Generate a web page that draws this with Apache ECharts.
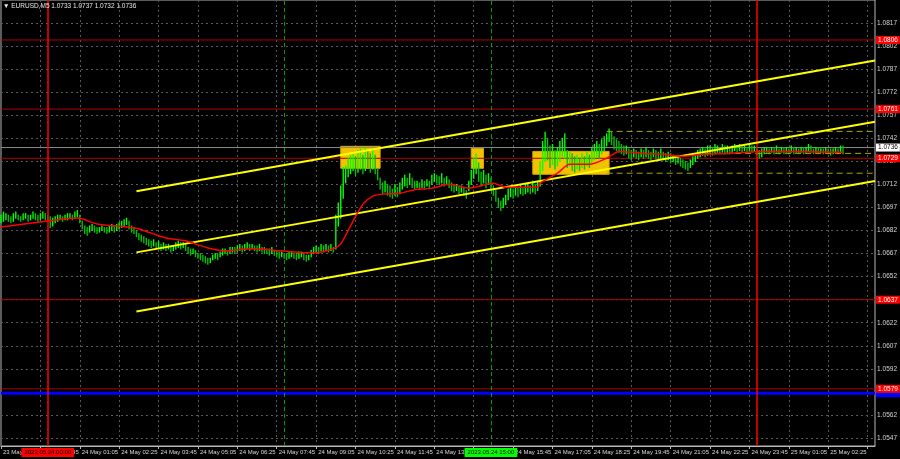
<!DOCTYPE html>
<html><head><meta charset="utf-8">
<script src="https://cdn.jsdelivr.net/npm/echarts@6/dist/echarts.min.js"></script>
<style>html,body{margin:0;padding:0;background:#000;}#c{width:900px;height:459px;}</style>
</head><body><div id="c"></div>
<script>
// ---- data (5-minute bars, index relative to 24 May 00:00) ----
const firstBarIdx = -19;          // first category = 23 May 22:25
const lastAxisIdx = 336;          // right edge of plot (chart shift)
const titleText = '\u25BC EURUSD,M5 1.0733 1.0737 1.0732 1.0736';
const tickLabels = ['23 May 22:25','23 May 23:45','24 May 01:05','24 May 02:25','24 May 03:45','24 May 05:05',
  '24 May 06:25','24 May 07:45','24 May 09:05','24 May 10:25','24 May 11:45','24 May 13:05','24 May 14:25',
  '24 May 15:45','24 May 17:05','24 May 18:25','24 May 19:45','24 May 21:05','24 May 22:25','24 May 23:45',
  '25 May 01:05','25 May 02:25',''];
const priceAxisBase = 1.0547, priceAxisStep = 0.0015, priceAxisSteps = 19;
const barRanges = [ // [low, high]
[1.0687,1.0692],[1.0688,1.0694],[1.0689,1.0693],[1.0688,1.0692],[1.0687,1.0691],[1.0688,1.0693],[1.0690,1.0694],[1.0689,1.0692],[1.0688,1.0691],[1.0689,1.0693],
[1.0690,1.0693],[1.0688,1.0692],[1.0689,1.0692],[1.0690,1.0694],[1.0689,1.0693],[1.0688,1.0692],[1.0689,1.0693],[1.0690,1.0694],[1.0689,1.0693],[1.0688,1.0692],
[1.0684,1.0691],[1.0685,1.0690],[1.0687,1.0691],[1.0688,1.0692],[1.0689,1.0692],[1.0688,1.0691],[1.0689,1.0692],[1.0689,1.0693],[1.0690,1.0693],[1.0689,1.0692],
[1.0690,1.0694],[1.0691,1.0695],[1.0687,1.0692],[1.0683,1.0688],[1.0680,1.0685],[1.0679,1.0684],[1.0681,1.0685],[1.0682,1.0686],[1.0681,1.0685],[1.0680,1.0684],
[1.0681,1.0684],[1.0682,1.0685],[1.0681,1.0684],[1.0680,1.0684],[1.0681,1.0685],[1.0682,1.0686],[1.0681,1.0685],[1.0682,1.0686],[1.0683,1.0687],[1.0684,1.0688],
[1.0685,1.0689],[1.0686,1.0690],[1.0683,1.0688],[1.0681,1.0685],[1.0680,1.0684],[1.0678,1.0682],[1.0676,1.0680],[1.0675,1.0679],[1.0674,1.0678],[1.0673,1.0677],
[1.0672,1.0676],[1.0671,1.0675],[1.0672,1.0676],[1.0670,1.0674],[1.0671,1.0675],[1.0669,1.0673],[1.0670,1.0674],[1.0669,1.0673],[1.0670,1.0673],[1.0668,1.0672],
[1.0669,1.0672],[1.0670,1.0674],[1.0671,1.0675],[1.0670,1.0674],[1.0671,1.0674],[1.0669,1.0673],[1.0667,1.0671],[1.0666,1.0670],[1.0667,1.0670],[1.0665,1.0669],
[1.0664,1.0667],[1.0663,1.0667],[1.0662,1.0666],[1.0661,1.0665],[1.0660,1.0664],[1.0661,1.0664],[1.0663,1.0666],[1.0664,1.0667],[1.0663,1.0667],[1.0665,1.0668],
[1.0666,1.0670],[1.0667,1.0670],[1.0666,1.0669],[1.0667,1.0671],[1.0668,1.0671],[1.0667,1.0671],[1.0668,1.0672],[1.0669,1.0673],[1.0668,1.0672],[1.0669,1.0673],
[1.0670,1.0674],[1.0669,1.0673],[1.0670,1.0673],[1.0669,1.0672],[1.0668,1.0672],[1.0669,1.0673],[1.0668,1.0671],[1.0667,1.0671],[1.0667,1.0670],[1.0666,1.0670],
[1.0667,1.0671],[1.0666,1.0669],[1.0665,1.0669],[1.0664,1.0668],[1.0665,1.0668],[1.0664,1.0667],[1.0663,1.0667],[1.0664,1.0668],[1.0665,1.0668],[1.0664,1.0667],
[1.0663,1.0667],[1.0664,1.0668],[1.0665,1.0668],[1.0663,1.0667],[1.0662,1.0666],[1.0663,1.0666],[1.0665,1.0669],[1.0667,1.0671],[1.0668,1.0672],[1.0667,1.0671],
[1.0669,1.0673],[1.0668,1.0672],[1.0669,1.0673],[1.0668,1.0672],[1.0669,1.0673],[1.0668,1.0671],[1.0670,1.0692],[1.0685,1.0700],[1.0690,1.0711],[1.0703,1.0723],
[1.0713,1.0724],[1.0717,1.0729],[1.0719,1.0731],[1.0721,1.0733],[1.0718,1.0730],[1.0720,1.0734],[1.0722,1.0735],[1.0719,1.0731],[1.0721,1.0736],[1.0723,1.0734],
[1.0720,1.0732],[1.0722,1.0735],[1.0719,1.0731],[1.0715,1.0722],[1.0709,1.0716],[1.0706,1.0713],[1.0707,1.0714],[1.0705,1.0712],[1.0704,1.0711],[1.0703,1.0709],
[1.0705,1.0712],[1.0704,1.0710],[1.0706,1.0713],[1.0709,1.0716],[1.0711,1.0718],[1.0710,1.0716],[1.0712,1.0719],[1.0710,1.0716],[1.0709,1.0714],[1.0710,1.0714],
[1.0709,1.0713],[1.0710,1.0715],[1.0709,1.0714],[1.0711,1.0715],[1.0710,1.0714],[1.0712,1.0718],[1.0714,1.0719],[1.0713,1.0718],[1.0712,1.0717],[1.0713,1.0719],
[1.0711,1.0716],[1.0712,1.0717],[1.0710,1.0715],[1.0708,1.0713],[1.0707,1.0712],[1.0708,1.0712],[1.0706,1.0711],[1.0707,1.0711],[1.0705,1.0710],[1.0703,1.0708],
[1.0708,1.0714],[1.0712,1.0721],[1.0716,1.0729],[1.0719,1.0732],[1.0714,1.0726],[1.0711,1.0720],[1.0713,1.0721],[1.0710,1.0718],[1.0712,1.0719],[1.0709,1.0716],
[1.0705,1.0711],[1.0701,1.0708],[1.0697,1.0703],[1.0695,1.0701],[1.0697,1.0703],[1.0699,1.0705],[1.0702,1.0709],[1.0704,1.0710],[1.0703,1.0709],[1.0705,1.0711],
[1.0704,1.0710],[1.0706,1.0712],[1.0705,1.0710],[1.0706,1.0712],[1.0707,1.0713],[1.0706,1.0711],[1.0707,1.0714],[1.0706,1.0712],[1.0708,1.0714],[1.0711,1.0727],
[1.0721,1.0740],[1.0727,1.0746],[1.0728,1.0742],[1.0723,1.0737],[1.0725,1.0738],[1.0722,1.0734],[1.0724,1.0736],[1.0727,1.0740],[1.0730,1.0742],[1.0729,1.0745],
[1.0723,1.0734],[1.0724,1.0733],[1.0721,1.0732],[1.0720,1.0730],[1.0722,1.0731],[1.0721,1.0729],[1.0723,1.0732],[1.0722,1.0730],[1.0724,1.0733],[1.0723,1.0731],
[1.0726,1.0736],[1.0728,1.0738],[1.0730,1.0740],[1.0729,1.0738],[1.0732,1.0741],[1.0734,1.0743],[1.0737,1.0745],[1.0740,1.0748],[1.0738,1.0746],[1.0735,1.0743],
[1.0734,1.0741],[1.0733,1.0740],[1.0732,1.0738],[1.0731,1.0737],[1.0732,1.0737],[1.0729,1.0735],[1.0728,1.0734],[1.0730,1.0735],[1.0729,1.0734],[1.0728,1.0733],
[1.0730,1.0735],[1.0729,1.0734],[1.0730,1.0736],[1.0729,1.0734],[1.0728,1.0733],[1.0730,1.0735],[1.0729,1.0734],[1.0728,1.0733],[1.0729,1.0735],[1.0728,1.0733],
[1.0727,1.0732],[1.0728,1.0733],[1.0726,1.0732],[1.0727,1.0731],[1.0725,1.0730],[1.0726,1.0731],[1.0724,1.0729],[1.0723,1.0728],[1.0722,1.0727],[1.0721,1.0726],
[1.0723,1.0728],[1.0725,1.0730],[1.0727,1.0732],[1.0729,1.0734],[1.0730,1.0735],[1.0731,1.0736],[1.0730,1.0735],[1.0731,1.0737],[1.0732,1.0737],[1.0731,1.0736],
[1.0732,1.0738],[1.0733,1.0737],[1.0732,1.0736],[1.0733,1.0738],[1.0732,1.0737],[1.0733,1.0737],[1.0732,1.0736],[1.0733,1.0737],[1.0734,1.0738],[1.0733,1.0737],
[1.0734,1.0738],[1.0733,1.0737],[1.0734,1.0737],[1.0733,1.0736],[1.0734,1.0738],[1.0733,1.0737],[1.0734,1.0737],[1.0731,1.0736],[1.0729,1.0734],[1.0730,1.0735],
[1.0732,1.0736],[1.0733,1.0736],[1.0732,1.0735],[1.0733,1.0736],[1.0732,1.0736],[1.0733,1.0737],[1.0732,1.0735],[1.0733,1.0736],[1.0732,1.0736],[1.0733,1.0736],
[1.0732,1.0735],[1.0733,1.0737],[1.0732,1.0736],[1.0733,1.0736],[1.0732,1.0735],[1.0733,1.0736],[1.0732,1.0736],[1.0733,1.0736],[1.0734,1.0738],[1.0733,1.0737],
[1.0732,1.0735],[1.0733,1.0736],[1.0732,1.0736],[1.0733,1.0735],[1.0732,1.0735],[1.0733,1.0736],[1.0732,1.0735],[1.0731,1.0735],[1.0732,1.0735],[1.0733,1.0736],
[1.0732,1.0735],[1.0733,1.0737],[1.0732,1.0737]
];
const maIdx = [-19,0,12,20,32,37,48,56,65,73,82,91,100,108,116,119,124,128,132,136,143,150,156,163,171,181,186,199,200,207,212,220,227,232,242,250,258,266,277,290,304,323];
const maVal = [1.06843,1.06882,1.06901,1.06863,1.06843,1.0683,1.06772,1.06753,1.06707,1.06688,1.06701,1.06694,1.06681,1.06675,1.06701,1.06733,1.06882,1.06992,1.07044,1.07057,1.07063,1.07089,1.07096,1.07122,1.07096,1.07128,1.07102,1.07102,1.07128,1.07193,1.07251,1.07251,1.0729,1.07335,1.07322,1.07316,1.07303,1.07316,1.07322,1.07335,1.07335,1.07329];
const channelIdx = [36, 336];
const channelTop = [1.07076, 1.07926];
const channelMid = [1.06678, 1.07528];
const channelLow = [1.06293, 1.07143];
const dashedLevels = [ {from: 227, to: 336, price: 1.07465}, {from: 227, to: 336, price: 1.07193}, {from: 267, to: 336, price: 1.07322} ];
const redLevels = [1.0806, 1.0761, 1.0729, 1.0637, 1.0579];
const currentPrice = 1.0736;
const blueLevel = 1.05761;
const redVLines = [{idx: 0, label: '2023.05.24 00:00'}, {idx: 288, label: ''}];
const greenVLines = [{idx: 96, label: ''}, {idx: 180, label: '2023.05.24 15:00'}];
const zones = [ {from: 119, to: 135, top: 1.07368, bottom: 1.07225}, {from: 172, to: 177, top: 1.07355, bottom: 1.07225}, {from: 197, to: 228, top: 1.07335, bottom: 1.07186} ];

// ---- build ----
const FONT = '"Liberation Sans", Arial, sans-serif';
const toCat = i => i - firstBarIdx;
const cats = Array.from({length: lastAxisIdx - firstBarIdx + 1}, (_, i) => String(i));
const dataMin = priceAxisBase - 8 * priceAxisStep / 23.17;
const dataMax = priceAxisBase + priceAxisSteps * priceAxisStep;

const chart = echarts.init(document.getElementById('c'), null, {renderer: 'canvas'});
const vLabel = (txt, bg) => txt ? {show: true, position: 'start', distance: 2, formatter: txt, backgroundColor: bg,
  color: '#000', fontSize: 6, fontFamily: FONT, padding: [1, 3, 1, 3], lineHeight: 7} : {show: false};

function renderBar(params, api) {
  const i = params.dataIndex;
  const lo = api.coord([api.value(0), api.value(1)]);
  const hi = api.coord([api.value(0), api.value(2)]);
  const prev = barRanges[Math.max(0, i - 1)];
  const up = (barRanges[i][0] + barRanges[i][1]) >= (prev[0] + prev[1]);
  return {type: 'line', shape: {x1: lo[0], y1: lo[1] + 0.5, x2: hi[0], y2: hi[1] - 0.5},
    style: {stroke: up ? '#00ff00' : '#00c000', lineWidth: 1.4}};
}

const chanSeries = (vals) => ({type: 'line', xAxisIndex: 0, yAxisIndex: 0, z: 5, symbol: 'none', silent: true,
  lineStyle: {color: '#ffff00', width: 2}, data: channelIdx.map((c, k) => [toCat(c), vals[k]])});

const hLine = (p, color, width, bg, fg, z) => ({type: 'line', xAxisIndex: 0, yAxisIndex: 0, z: z, symbol: 'none', silent: true,
  lineStyle: {color: color, width: width}, data: [[0, p], [cats.length - 1, p]],
  endLabel: {show: true, distance: 1, formatter: p.toFixed(4), backgroundColor: bg, color: fg, fontSize: 6.5,
    fontFamily: FONT, padding: [1, 2, 0, 2], lineHeight: 7}});

const option = {
  backgroundColor: '#000000',
  animation: false,
  title: {text: titleText, left: 3, top: 3, padding: 0,
    textStyle: {color: '#e8e8e8', fontSize: 6.5, fontWeight: 'normal', fontFamily: FONT}},
  grid: [
    {left: 1, right: 25, top: -2.17, bottom: 13, show: true, borderColor: '#b8b8b8', borderWidth: 1, backgroundColor: 'transparent'},
    {left: 1, right: 25, top: -2.17, bottom: 21}
  ],
  xAxis: [
    {type: 'category', gridIndex: 0, data: cats, boundaryGap: false,
      axisLine: {show: true, lineStyle: {color: '#b8b8b8'}},
      axisTick: {show: true, interval: 15, length: 3, lineStyle: {color: '#b8b8b8'}},
      axisLabel: {interval: 15, align: 'left', margin: 3, color: '#d8d8d8', fontSize: 6, fontFamily: FONT, padding: [0, 0, 0, 2],
        formatter: (v) => tickLabels[Math.round(Number(v) / 16)] || ''},
      splitLine: {show: true, interval: 15, lineStyle: {color: '#5a5a5a', type: [2, 3], width: 1}}},
    {type: 'value', gridIndex: 1, show: false, min: 0, max: 1}
  ],
  yAxis: [
    {type: 'value', gridIndex: 0, min: dataMin, max: dataMax, show: false, splitLine: {show: false}},
    {type: 'value', gridIndex: 1, position: 'right', min: 0, max: priceAxisSteps, interval: 1,
      axisLine: {show: false}, axisTick: {show: false},
      axisLabel: {color: '#d8d8d8', fontSize: 6.5, fontFamily: FONT, margin: 4, showMaxLabel: false,
        formatter: v => (priceAxisBase + v * priceAxisStep).toFixed(4)},
      splitLine: {show: true, lineStyle: {color: '#5a5a5a', type: [2, 3], width: 1}}}
  ],
  series: [
    {type: 'line', name: 'zones', xAxisIndex: 0, yAxisIndex: 0, z: 1, data: [], silent: true,
      markArea: {silent: true, itemStyle: {color: '#f2c200', opacity: 1, borderColor: '#d9a800', borderWidth: 1},
        data: zones.map(zn => [{xAxis: String(toCat(zn.from)), yAxis: zn.top}, {xAxis: String(toCat(zn.to)), yAxis: zn.bottom}])}},
    {type: 'line', name: 'vlines', xAxisIndex: 0, yAxisIndex: 0, z: 2, data: [], silent: true,
      markLine: {silent: true, symbol: ['none', 'none'], animation: false,
        data: [
          ...greenVLines.map(v => ({xAxis: String(toCat(v.idx)), lineStyle: {color: '#00a000', width: 1, type: [4, 3]}, label: vLabel(v.label, '#00ff00')})),
          ...redVLines.map(v => ({xAxis: String(toCat(v.idx)), lineStyle: {color: '#ff0000', width: 1.5, type: 'solid'}, label: vLabel(v.label, '#ff0000')}))
        ]}},
    hLine(currentPrice, '#8a8a8a', 1, '#ffffff', '#000000', 2),
    hLine(blueLevel, '#0000ff', 3, '#0000ff', '#0000ff', 2),
    ...redLevels.map(p => hLine(p, '#b00000', 1, '#ff0000', '#ffffff', 2.5)),
    {type: 'custom', name: 'bars', xAxisIndex: 0, yAxisIndex: 0, z: 3, silent: true, renderItem: renderBar,
      encode: {x: 0, y: [1, 2]}, data: barRanges.map((r, i) => [i, r[0], r[1]])},
    ...dashedLevels.map(d => ({type: 'line', xAxisIndex: 0, yAxisIndex: 0, z: 4, symbol: 'none', silent: true,
      lineStyle: {color: '#a8a800', width: 1, type: [6, 4]}, data: [[toCat(d.from), d.price], [toCat(d.to), d.price]]})),
    {type: 'line', name: 'ma', xAxisIndex: 0, yAxisIndex: 0, z: 6, symbol: 'none', silent: true, smooth: 0.25,
      lineStyle: {color: '#ff0000', width: 1.5}, data: maIdx.map((c, k) => [toCat(c), maVal[k]])},
    chanSeries(channelTop), chanSeries(channelMid), chanSeries(channelLow)
  ]
};
chart.setOption(option);
</script></body></html>
